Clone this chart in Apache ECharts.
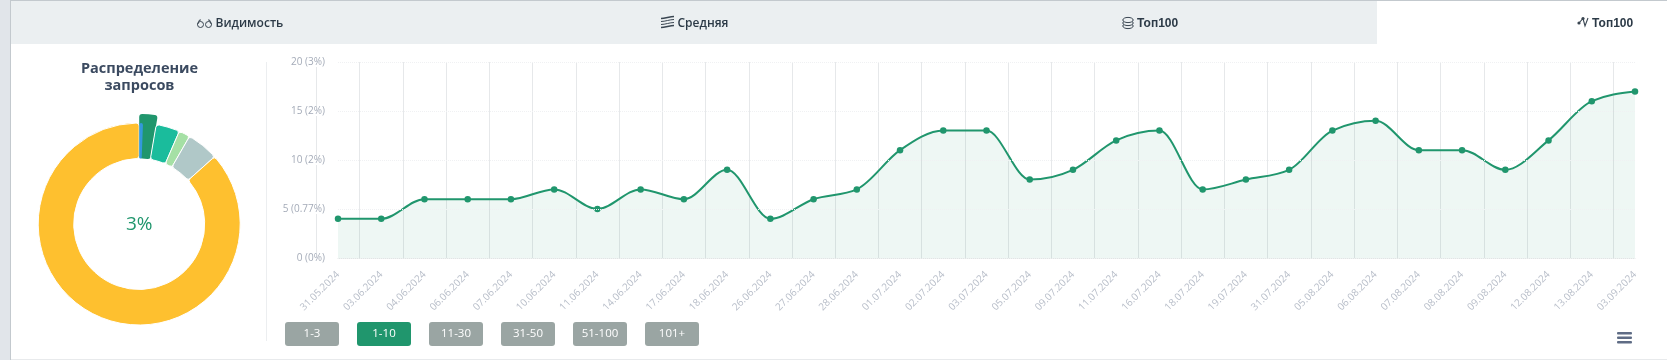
<!DOCTYPE html>
<html><head><meta charset="utf-8">
<style>html,body{margin:0;padding:0;background:#fff}#c{width:1667px;height:360px}</style>
<script src="https://cdn.jsdelivr.net/npm/echarts@6/dist/echarts.min.js"></script>
</head><body><div id="c"></div>
<script>
const categories = ['31.05.2024','03.06.2024','04.06.2024','06.06.2024','07.06.2024','10.06.2024','11.06.2024','14.06.2024','17.06.2024','18.06.2024','26.06.2024','27.06.2024','28.06.2024','01.07.2024','02.07.2024','03.07.2024','05.07.2024','09.07.2024','11.07.2024','16.07.2024','18.07.2024','19.07.2024','31.07.2024','05.08.2024','06.08.2024','07.08.2024','08.08.2024','09.08.2024','12.08.2024','13.08.2024','03.09.2024'];
const seriesValues = [4,4,6,6,6,7,5,7,6,9,4,6,7,11,13,13,8,9,12,13,7,8,9,13,14,11,11,9,12,16,17];
const yTickLabels = {0:'0 (0%)',5:'5 (0.77%)',10:'10 (2%)',15:'15 (2%)',20:'20 (3%)'};
const donutNames = ['1-3','1-10','11-30','31-50','51-100','101+'];
const donutValues = [0.6,2.7,3.8,1.8,5.1,86.6];
const donutColors = ['#3498db','#20966d','#1abc9c','#a5e0a5','#b0c8c8','#fec02f'];
const tabLabels = ['Видимость','Средняя','Топ100','Топ100'];
const rangeButtons = ['1-3','1-10','11-30','31-50','51-100','101+'];
const activeButton = '1-10';
const centerLabel = '3%';
const chartTitle = 'Распределение\nзапросов';

const FONT = '"Open Sans", sans-serif';
const GREEN = '#20966d';
const hidden = {color:'transparent',borderColor:'transparent',borderWidth:0};
const ringRest = donutNames.slice(1).map((n,i)=>{
  const idx=i+1;
  return {name:n,value:donutValues[idx],itemStyle: n==='1-10'?hidden:{color:donutColors[idx]}};
});
const overlayData = (name)=>{
  const idx=donutNames.indexOf(name);
  const rest=donutNames.slice(1).reduce((s,n)=>s+donutValues[donutNames.indexOf(n)],0);
  return [{name,value:donutValues[idx],itemStyle:{color:donutColors[idx]}},{name:'rest',value:rest-donutValues[idx],itemStyle:hidden}];
};
const pieBase={type:'pie',center:[139.2,224],startAngle:90,silent:true,label:{show:false},labelLine:{show:false},animation:false};

// monotone cubic curve through the data, placed with the axis scales
function monotonePath(pts){
  const n=pts.length, sl=[], t=[];
  for(let i=0;i<n-1;i++) sl.push((pts[i+1][1]-pts[i][1])/(pts[i+1][0]-pts[i][0]));
  for(let i=1;i<n-1;i++){
    const h0=pts[i][0]-pts[i-1][0],h1=pts[i+1][0]-pts[i][0];
    const p=(sl[i-1]*h1+sl[i]*h0)/(h0+h1);
    t[i]=(Math.sign(sl[i-1])+Math.sign(sl[i]))*Math.min(Math.abs(sl[i-1]),Math.abs(sl[i]),0.5*Math.abs(p));
  }
  t[0]=(3*sl[0]-t[1])/2; t[n-1]=(3*sl[n-2]-t[n-2])/2;
  let d='M'+pts[0][0]+' '+pts[0][1];
  for(let i=0;i<n-1;i++){
    const h=(pts[i+1][0]-pts[i][0])/3;
    d+=' C'+(pts[i][0]+h)+' '+(pts[i][1]+h*t[i])+' '+(pts[i+1][0]-h)+' '+(pts[i+1][1]-h*t[i+1])+' '+pts[i+1][0]+' '+pts[i+1][1];
  }
  return d;
}
function renderCurve(params,api){
  const pts=seriesValues.map((v,i)=>api.coord([i,v]));
  const d=monotonePath(pts);
  const base=api.coord([0,0])[1];
  const area=d+' L'+pts[pts.length-1][0]+' '+base+' L'+pts[0][0]+' '+base+' Z';
  return {type:'group',children:[
    {type:'path',shape:{pathData:area},style:{fill:GREEN,opacity:0.08}},
    {type:'path',shape:{pathData:d},style:{fill:'none',stroke:GREEN,lineWidth:2}}
  ]};
}

const g=[];
g.push({type:'rect',shape:{x:0,y:0,width:10,height:360},style:{fill:'#e1e5ea'},silent:true});
g.push({type:'rect',shape:{x:10,y:0,width:1,height:360},style:{fill:'#c3c9ce'},silent:true});
g.push({type:'rect',shape:{x:11,y:1,width:1366,height:43},style:{fill:'#ebeff1'},silent:true});
g.push({type:'rect',shape:{x:10,y:0,width:1657,height:1},style:{fill:'#c3c9ce'},silent:true});
g.push({type:'rect',shape:{x:11,y:359,width:1656,height:1},style:{fill:'#e8eaec'},silent:true});
g.push({type:'rect',shape:{x:266,y:62,width:1,height:279},style:{fill:'#eceef0'},silent:true});
g.push({type:'text',x:139.5,y:77,style:{text:chartTitle,fill:'#3b4a60',font:'bold 14.5px '+FONT,lineHeight:17,textAlign:'center',textVerticalAlign:'middle'},silent:true});
const tabX=[215.5,677.5,1137,1592];
const tabFont=['600 12px '+FONT,'600 12px '+FONT,'bold 12px "Liberation Sans", sans-serif','bold 12px "Liberation Sans", sans-serif'];
tabLabels.forEach((t,i)=>g.push({type:'text',x:tabX[i],y:24,style:{text:t,fill:'#2c3a47',font:tabFont[i],textAlign:'left',textVerticalAlign:'middle'},silent:true}));
const ink='#3a4652';
// glasses
[200.5,208.5].forEach(x=>g.push({type:'circle',shape:{cx:x,cy:24.5,r:3},style:{fill:'none',stroke:ink,lineWidth:1},silent:true}));
g.push({type:'polyline',shape:{points:[[197.5,24.5],[199.5,20],[201,20]]},style:{fill:'none',stroke:ink,lineWidth:1},silent:true});
g.push({type:'polyline',shape:{points:[[211.5,24.5],[209.5,20],[208,20]]},style:{fill:'none',stroke:ink,lineWidth:1},silent:true});
// lines
[[17.5,1.4],[20.5,1],[23.5,1],[26.5,1.4]].forEach(([y,w])=>g.push({type:'bezierCurve',shape:{x1:661,y1:y+1,x2:674,y2:y-1,cpx1:665,cpy1:y+1,cpx2:670,cpy2:y-1},style:{fill:'none',stroke:ink,lineWidth:w},silent:true}));
// layers
[26,23,20].forEach(y=>g.push({type:'ellipse',shape:{cx:1128,cy:y,rx:5.2,ry:2.6},style:{fill:'#ebeff1',stroke:ink,lineWidth:1},silent:true}));
// chart icon
g.push({type:'polyline',shape:{points:[[1579,23],[1583,18.5],[1585,26],[1588,18]]},style:{fill:'none',stroke:ink,lineWidth:1.1},silent:true});
[[1579,23],[1583,18.5]].forEach(([x,y])=>g.push({type:'circle',shape:{cx:x,cy:y,r:1.6},style:{fill:ink},silent:true}));
// center
g.push({type:'text',x:139.2,y:225,z:10,style:{text:centerLabel,fill:GREEN,font:'500 19px '+FONT,textAlign:'center',textVerticalAlign:'middle'},silent:true});
// buttons
rangeButtons.forEach((b,i)=>{
  const x=285+72*i;
  g.push({type:'rect',shape:{x,y:322,width:54,height:24,r:3},style:{fill:b===activeButton?GREEN:'#9aa5a3'},silent:true});
  g.push({type:'text',x:x+27,y:333.5,style:{text:b,fill:'#fff',font:'11.5px '+FONT,textAlign:'center',textVerticalAlign:'middle'},silent:true});
});
// menu
[333,337.5,342].forEach(y=>g.push({type:'rect',shape:{x:1617,y:y-1,width:15,height:2.4,r:1},style:{fill:'#5f6c85'},silent:true}));

const chart=echarts.init(document.getElementById('c'),null,{renderer:'canvas'});
chart.setOption({
  animation:false,
  backgroundColor:'#fff',
  grid:[
    {left:338,top:62,width:1297,height:196},
    {left:316.4,top:62,width:1340.4,height:196}
  ],
  xAxis:[
    {type:'category',gridIndex:0,data:categories,boundaryGap:false,z:3,
      axisLine:{lineStyle:{color:'#e0e6e4'}},axisTick:{show:false},splitLine:{show:false},
      axisLabel:{interval:0,rotate:45,margin:15,fontFamily:FONT,fontSize:10,color:'#b8bec9'}},
    {type:'category',gridIndex:1,data:categories,boundaryGap:true,
      axisLine:{show:false},axisTick:{show:false},axisLabel:{show:false},
      splitLine:{show:true,interval:0,showMaxLine:false,lineStyle:{color:'#e6e8ea',width:1}}}
  ],
  yAxis:[
    {type:'value',gridIndex:0,min:0,max:20,interval:5,z:4,
      axisLine:{show:false},axisTick:{show:false},
      splitLine:{show:true,lineStyle:{color:'#f0f1f3',type:'dotted'}},
      axisLabel:{margin:13,fontFamily:FONT,fontSize:10,color:'#a4abb8',backgroundColor:'#fff',formatter:v=>yTickLabels[v]}},
    {type:'value',gridIndex:1,min:0,max:20,interval:5,show:false}
  ],
  series:[
    {type:'custom',xAxisIndex:0,yAxisIndex:0,coordinateSystem:'cartesian2d',data:[[0,0]],renderItem:renderCurve,silent:true,z:2,clip:false},
    {type:'line',xAxisIndex:0,yAxisIndex:0,data:seriesValues,
      showSymbol:true,symbol:'circle',symbolSize:6.5,silent:true,z:3,
      lineStyle:{opacity:0},itemStyle:{color:GREEN}},
    Object.assign({},pieBase,{z:2,radius:[65.5,110],data:overlayData('1-10'),itemStyle:{borderRadius:3}}),
    Object.assign({},pieBase,{z:3,radius:[65.5,101],data:[{name:donutNames[1],value:donutValues[1],itemStyle:hidden}].concat(ringRest.filter(d=>d.name!=='1-10')),itemStyle:{borderRadius:3,borderColor:'#fff',borderWidth:1}}),
    Object.assign({},pieBase,{z:4,radius:[65.5,101],data:overlayData('1-3'),itemStyle:{borderRadius:2}})
  ],
  graphic:g
});
</script></body></html>
